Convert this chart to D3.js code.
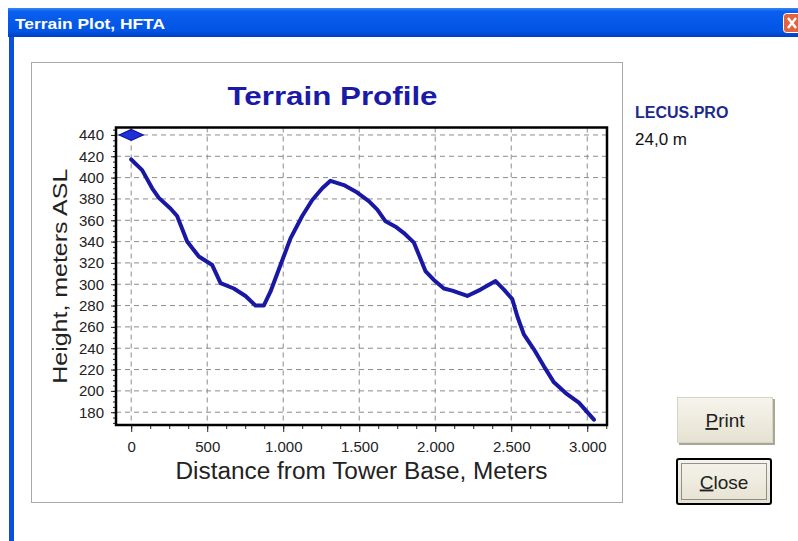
<!DOCTYPE html>
<html>
<head>
<meta charset="utf-8">
<script src="https://cdn.jsdelivr.net/npm/d3@7"></script>
<style>
  body { margin: 0; background: #ffffff; }
  svg text { font-family: "Liberation Sans", Arial, sans-serif; }
</style>
</head>
<body>
<div id="chart"></div>
<script>
// terrain profile
const distance = [0, 72, 138, 182, 258, 302, 368, 445, 533, 588, 675, 752, 818, 872,
  916, 982, 1048, 1125, 1191, 1257, 1311, 1399, 1487, 1563, 1619, 1673, 1739, 1794,
  1860, 1937, 1991, 2057, 2112, 2211, 2298, 2397, 2452, 2507, 2540, 2583, 2649, 2715,
  2781, 2858, 2945, 3044];
const heightASL = [417, 407, 390, 381, 371, 364, 340, 326, 318, 301, 296, 289, 280, 280,
  293, 318, 343, 364, 379, 390, 397, 393, 386, 378, 370, 359, 354, 348,
  339, 312, 304, 296, 294, 289, 295, 303, 295, 286, 270, 253, 239, 223,
  208, 198, 189, 173];
const tower = [0, 440];          // diamond marker at the tower base
const xTicks = [0, 500, 1000, 1500, 2000, 2500, 3000];
const yTicks = [180, 200, 220, 240, 260, 280, 300, 320, 340, 360, 380, 400, 420, 440];
const fileName = "LECUS.PRO";
const towerHeight = "24,0 m";

const W = 798, H = 541;
const plot = {left: 116, right: 607, top: 127.5, bottom: 425};

const svg = d3.select("#chart").append("svg")
  .attr("width", W).attr("height", H);

const defs = svg.append("defs");
const tg = defs.append("linearGradient").attr("id", "titlebar")
  .attr("x1", 0).attr("y1", 0).attr("x2", 0).attr("y2", 1);
tg.append("stop").attr("offset", "0%").attr("stop-color", "#3a86f4");
tg.append("stop").attr("offset", "12%").attr("stop-color", "#0a5ff0");
tg.append("stop").attr("offset", "80%").attr("stop-color", "#0254e2");
tg.append("stop").attr("offset", "100%").attr("stop-color", "#0040c4");
const bg = defs.append("linearGradient").attr("id", "btn")
  .attr("x1", 0).attr("y1", 0).attr("x2", 0).attr("y2", 1);
bg.append("stop").attr("offset", "0%").attr("stop-color", "#f6f4ec");
bg.append("stop").attr("offset", "100%").attr("stop-color", "#e6e2d2");

// window chrome
svg.append("rect").attr("x", 8).attr("y", 8).attr("width", 790).attr("height", 29)
  .attr("fill", "url(#titlebar)");
svg.append("rect").attr("x", 9).attr("y", 37).attr("width", 5).attr("height", H - 37)
  .attr("fill", "#0a4fe0");
svg.append("text").attr("x", 15).attr("y", 29)
  .attr("fill", "#ffffff").attr("font-weight", "bold").attr("font-size", 15)
  .attr("textLength", 150).attr("lengthAdjust", "spacingAndGlyphs")
  .text("Terrain Plot, HFTA");
svg.append("rect").attr("x", 783.5).attr("y", 13.5).attr("width", 20).attr("height", 19)
  .attr("rx", 3).attr("fill", "#e2643e").attr("stroke", "#ffffff");
svg.append("path").attr("d", "M788,18 L796,28 M796,18 L788,28")
  .attr("stroke", "#ffffff").attr("stroke-width", 2.5);

// chart panel
svg.append("rect").attr("x", 31.5).attr("y", 62.5).attr("width", 591).attr("height", 440)
  .attr("fill", "#ffffff").attr("stroke", "#a8a8a8");

const x = d3.scaleLinear().domain([-100, 3130]).range([plot.left, plot.right]);
const y = d3.scaleLinear().domain([168, 447]).range([plot.bottom, plot.top]);

const dotted = d3.formatLocale({decimal: ",", thousands: ".", grouping: [3], currency: ["", ""]})
  .format(",d");

// grid
const grid = svg.append("g").attr("stroke", "#8c8c8c").attr("stroke-dasharray", "5,4");
grid.selectAll("line.h").data(yTicks).join("line")
  .attr("x1", plot.left).attr("x2", plot.right)
  .attr("y1", d => y(d)).attr("y2", d => y(d));
grid.selectAll("line.v").data(xTicks).join("line")
  .attr("x1", d => x(d)).attr("x2", d => x(d))
  .attr("y1", plot.top).attr("y2", plot.bottom);

// axes
const xAxis = svg.append("g").attr("transform", `translate(0,${plot.bottom})`)
  .call(d3.axisBottom(x).tickValues(xTicks).tickFormat(dotted).tickSize(7).tickPadding(9));
const xMinor = svg.append("g").attr("transform", `translate(0,${plot.bottom})`)
  .call(d3.axisBottom(x).tickValues(d3.range(0, 3126, 125)).tickFormat("").tickSize(4));
const yAxis = svg.append("g").attr("transform", `translate(${plot.left},0)`)
  .call(d3.axisLeft(y).tickValues(yTicks).tickSize(5).tickPadding(7));
const yMinor = svg.append("g").attr("transform", `translate(${plot.left},0)`)
  .call(d3.axisLeft(y).tickValues(d3.range(170, 446, 5)).tickFormat("").tickSize(3));

[xAxis, xMinor, yAxis, yMinor].forEach(g => {
  g.select(".domain").remove();
  g.selectAll(".tick line").attr("stroke", "#222");
  g.selectAll("text").attr("font-size", 15).attr("fill", "#222")
    .attr("font-family", "'Liberation Sans', Arial, sans-serif");
});

// frame
svg.append("rect").attr("x", plot.left).attr("y", plot.top)
  .attr("width", plot.right - plot.left).attr("height", plot.bottom - plot.top)
  .attr("fill", "none").attr("stroke", "#000").attr("stroke-width", 2.5);

// profile line
svg.append("path")
  .datum(distance.map((d, i) => [d, heightASL[i]]))
  .attr("fill", "none").attr("stroke", "#1818a4").attr("stroke-width", 4)
  .attr("stroke-linejoin", "round").attr("stroke-linecap", "round")
  .attr("d", d3.line().x(d => x(d[0])).y(d => y(d[1])));

// tower marker
const tx = x(tower[0]), ty = y(tower[1]);
svg.append("path")
  .attr("d", `M${tx - 12},${ty} L${tx},${ty - 5.5} L${tx + 12},${ty} L${tx},${ty + 5.5} Z`)
  .attr("fill", "#2030d8").attr("stroke", "#10109a").attr("stroke-width", 1.2);

// titles
svg.append("text").attr("x", (plot.left + plot.right) / 2 - 29).attr("y", 105)
  .attr("text-anchor", "middle").attr("font-weight", "bold").attr("font-size", 25)
  .attr("fill", "#1a1aa6").attr("textLength", 210).attr("lengthAdjust", "spacingAndGlyphs")
  .text("Terrain Profile");
svg.append("text").attr("x", (plot.left + plot.right) / 2).attr("y", 479)
  .attr("text-anchor", "middle").attr("font-size", 23).attr("fill", "#222")
  .attr("textLength", 372).attr("lengthAdjust", "spacingAndGlyphs")
  .text("Distance from Tower Base, Meters");
svg.append("text")
  .attr("transform", `translate(67,${(plot.top + plot.bottom) / 2}) rotate(-90)`)
  .attr("text-anchor", "middle").attr("font-size", 21).attr("fill", "#222")
  .attr("textLength", 215).attr("lengthAdjust", "spacingAndGlyphs")
  .text("Height, meters ASL");

// side info
svg.append("text").attr("x", 635).attr("y", 118).attr("font-weight", "bold")
  .attr("font-size", 16).attr("fill", "#1c2a8c").text(fileName);
svg.append("text").attr("x", 635).attr("y", 145).attr("font-size", 17)
  .attr("fill", "#111").text(towerHeight);

// buttons
function button(x0, y0, w, h, first, rest, focused) {
  const g = svg.append("g");
  if (focused) {
    g.append("rect").attr("x", x0 + 1).attr("y", y0 + 1).attr("width", w - 2).attr("height", h - 2)
      .attr("rx", 2).attr("fill", "url(#btn)").attr("stroke", "#000").attr("stroke-width", 2);
    g.append("rect").attr("x", x0 + 5.5).attr("y", y0 + 5.5).attr("width", w - 11).attr("height", h - 11)
      .attr("fill", "none").attr("stroke", "#333").attr("stroke-dasharray", "1,1");
  } else {
    g.append("rect").attr("x", x0 + 2).attr("y", y0 + 2).attr("width", w).attr("height", h)
      .attr("fill", "#a9a698");
    g.append("rect").attr("x", x0 + 0.5).attr("y", y0 + 0.5).attr("width", w - 1).attr("height", h - 1)
      .attr("fill", "url(#btn)").attr("stroke", "#d8d4c4");
  }
  const t = g.append("text").attr("x", x0 + w / 2).attr("y", y0 + h / 2 + 7)
    .attr("text-anchor", "middle").attr("font-size", 19).attr("fill", "#222");
  t.append("tspan").style("text-decoration", "underline").text(first);
  t.append("tspan").text(rest);
}
button(677, 397, 96, 46, "P", "rint", false);
button(676, 458, 96, 47, "C", "lose", true);
</script>
</body>
</html>
